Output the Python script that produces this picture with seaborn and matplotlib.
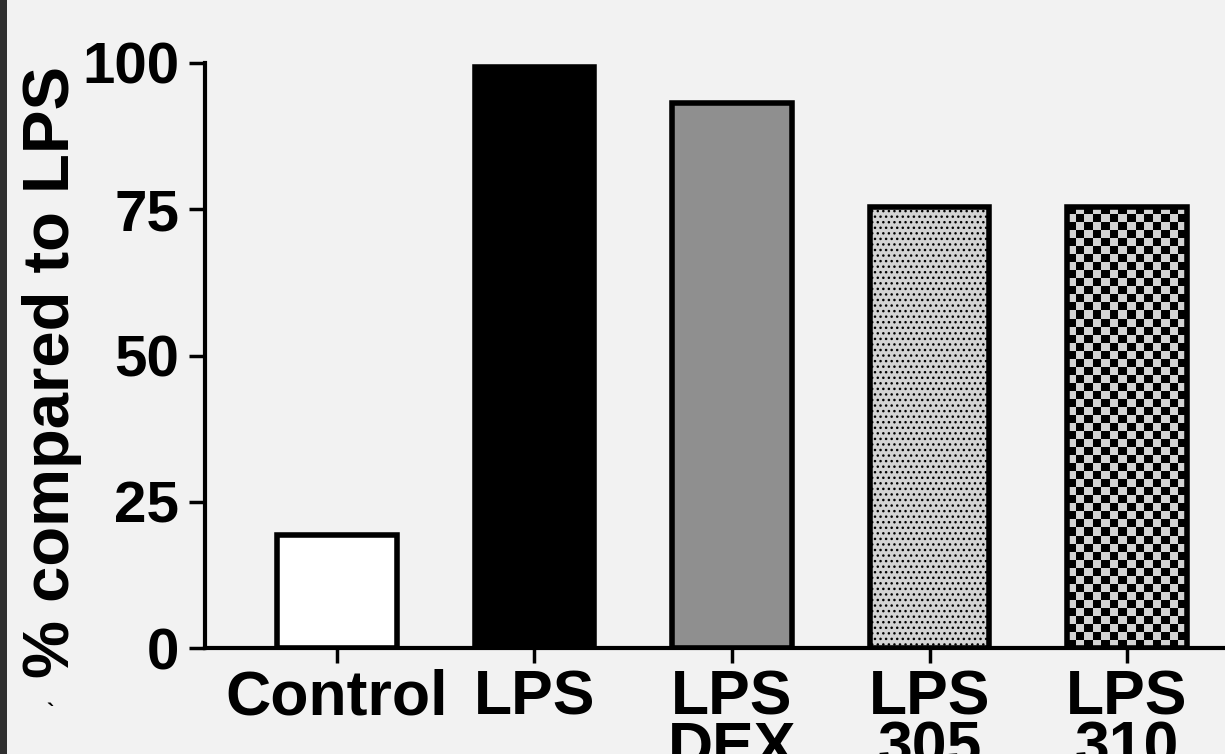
import numpy as np
import pandas as pd
import seaborn as sns
import matplotlib.pyplot as plt
from matplotlib.colors import ListedColormap
from matplotlib.patches import Rectangle

# values
groups = ["Control", "LPS", "LPS\nDEX", "LPS\n305", "LPS\n310"]
percent = [19.3, 99.3, 93.2, 75.4, 75.4]
fills = ["#ffffff", "#000000", "#8f8f8f", "#d3d3d3", "#d3d3d3"]
yticks = [0, 25, 50, 75, 100]

sns.set_style("ticks")
plt.rcParams["font.family"] = ["Liberation Sans", "DejaVu Sans"]
plt.rcParams["font.weight"] = "bold"
plt.rcParams["text.color"] = "black"
plt.rcParams["xtick.color"] = "black"
plt.rcParams["ytick.color"] = "black"
plt.rcParams["xtick.labelcolor"] = "black"
plt.rcParams["ytick.labelcolor"] = "black"
plt.rcParams["hatch.linewidth"] = 1.0
plt.rcParams["hatch.color"] = "black"

bg = "#f2f2f2"
fig = plt.figure(figsize=(12.25, 7.54), dpi=100, facecolor=bg)
ax = fig.add_axes([205 / 1225, 106 / 754, 1020 / 1225, 585 / 754])
ax.set_facecolor(bg)

# dark strip on the left edge
fig.patches.append(Rectangle((0, 0), 7 / 1225, 1, transform=fig.transFigure,
                             facecolor="#2f2f2f", edgecolor="none"))

df = pd.DataFrame({"group": groups, "percent": percent})
sns.barplot(data=df, x="group", y="percent", hue="group", palette=fills,
            width=0.605, edgecolor="black", linewidth=4, legend=False,
            saturation=1, ax=ax)

bars = ax.patches
# LPS 305: small dots
bars[3].set_hatch("...")

# LPS 310: checkerboard texture clipped to the bar
p = bars[4]
x0, y0 = p.get_x(), p.get_y()
w, h = p.get_width(), p.get_height()
ncol = 14
nrow = int(round(h / 1.37))
yy, xx = np.indices((nrow, ncol))
checker = ((xx + yy) % 2).astype(float)
im = ax.imshow(checker, cmap=ListedColormap(["black", "#d3d3d3"]),
               extent=(x0, x0 + w, y0, y0 + h), origin="lower",
               aspect="auto", interpolation="nearest", zorder=p.get_zorder() - 0.05)
im.set_clip_path(p)
p.set_facecolor("none")

ax.set_xlim(-0.668, 4.496)
ax.set_ylim(0, 100)
ax.set_yticks(yticks)
ax.set_xlabel("")
ax.set_ylabel("")

sns.despine(ax=ax)
for side in ["left", "bottom"]:
    ax.spines[side].set_linewidth(3)
    ax.spines[side].set_color("black")
ax.spines["left"].set_bounds(0, 100)

ax.tick_params(axis="x", length=11, width=2.5, pad=4, labelsize=45, color="black")
ax.tick_params(axis="y", length=11.5, width=2.5, pad=7, labelsize=42, color="black")
for lab in ax.get_xticklabels():
    lab.set_fontweight("bold")
    lab.set_linespacing(0.82)
for lab in ax.get_yticklabels():
    lab.set_fontweight("bold")

fig.text(52 / 1225, 1 - 372 / 754, "% compared to LPS", rotation=90,
         ha="center", va="center", fontsize=47, fontweight="bold")
fig.text(50 / 1225, 1 - 714 / 754, "`", ha="center", va="center",
         fontsize=16, fontweight="bold")

fig.savefig("out.png", dpi=100, facecolor=bg)
